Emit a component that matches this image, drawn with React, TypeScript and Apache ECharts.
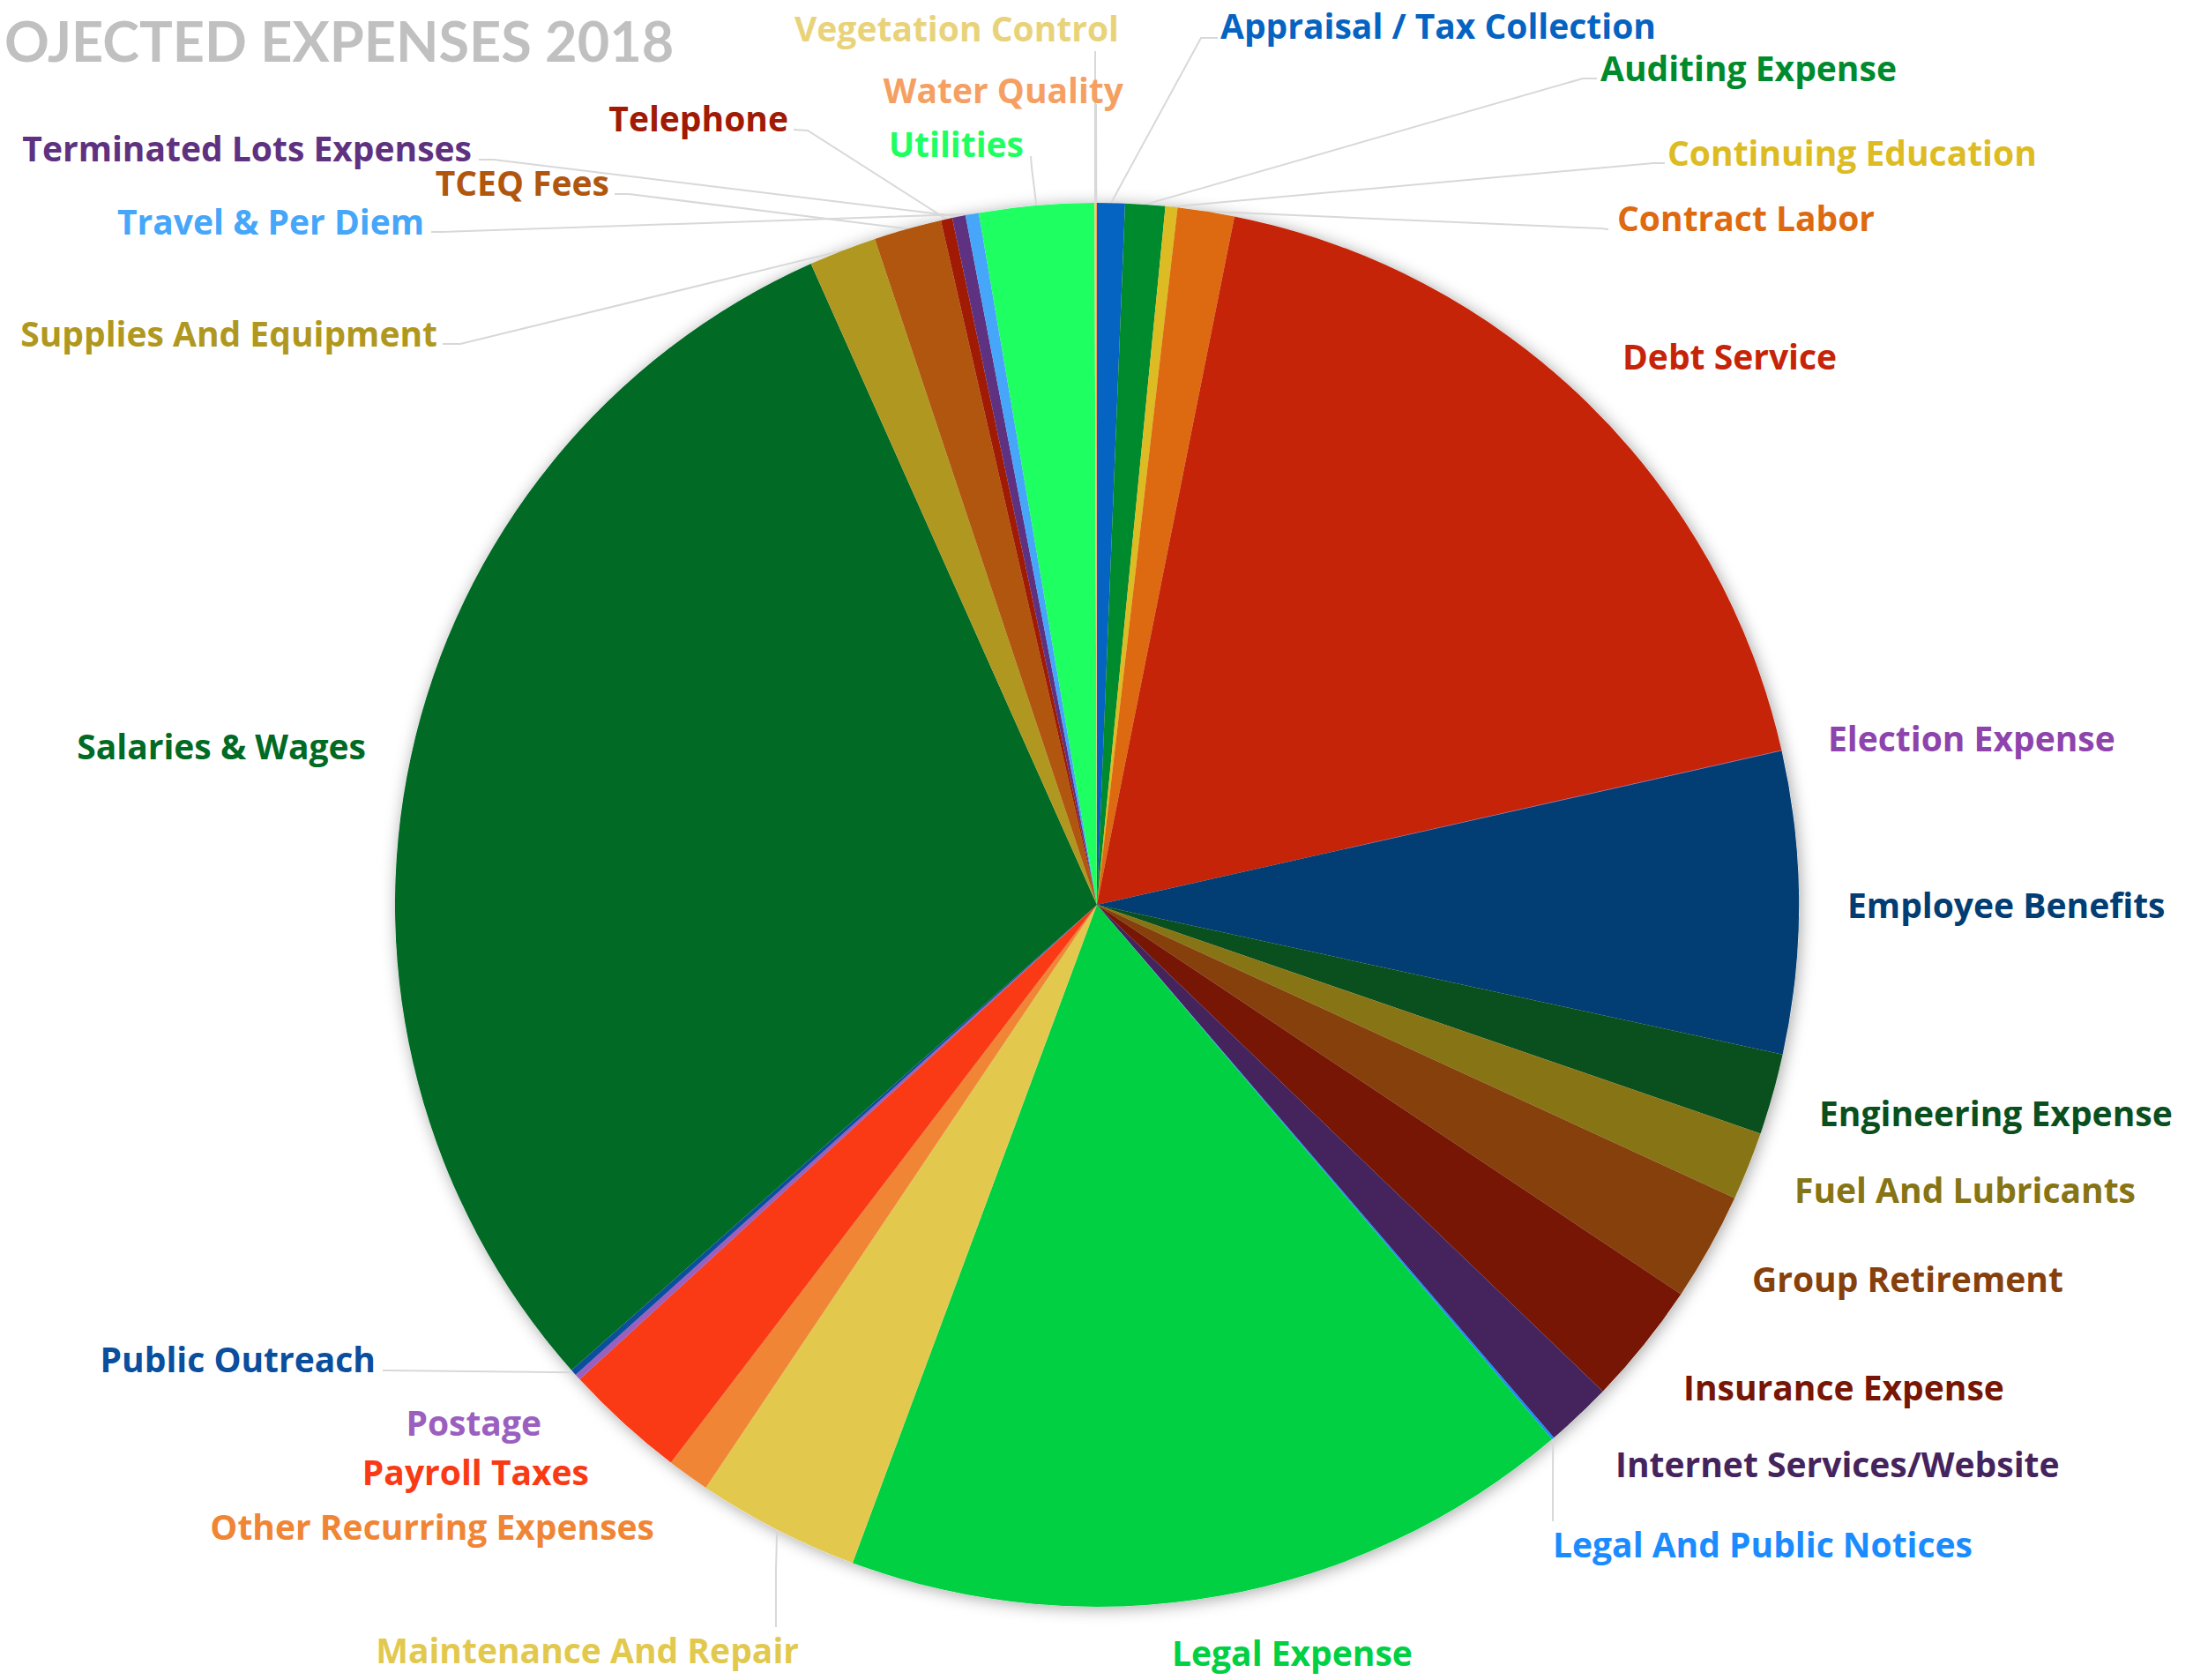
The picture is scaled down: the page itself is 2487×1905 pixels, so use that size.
import React, { useEffect, useRef } from 'react';
import * as echarts from 'echarts';

const titleText = 'OJECTED EXPENSES 2018';

const categories = [
  'Appraisal / Tax Collection',
  'Auditing Expense',
  'Continuing Education',
  'Contract Labor',
  'Debt Service',
  'Election Expense',
  'Employee Benefits',
  'Engineering Expense',
  'Fuel And Lubricants',
  'Group Retirement',
  'Insurance Expense',
  'Internet Services/Website',
  'Legal And Public Notices',
  'Legal Expense',
  'Maintenance And Repair',
  'Other Recurring Expenses',
  'Payroll Taxes',
  'Postage',
  'Public Outreach',
  'Salaries & Wages',
  'Supplies And Equipment',
  'TCEQ Fees',
  'Telephone',
  'Terminated Lots Expenses',
  'Travel & Per Diem',
  'Utilities',
  'Vegetation Control',
  'Water Quality',
];

const values = [
  6900, 9900, 3000, 14100, 198000, 100, 75000, 20100, 17000, 27000, 30600, 16500,
  600, 182400, 40500, 10500, 30300, 1500, 1500, 322500, 16800, 16800, 2850, 3300,
  3300, 28500, 300, 300,
];

const colors = [
  '#0563C1', '#008A2E', '#DDBB22', '#DD6A10', '#C62408', '#8E44AD', '#023D73', '#0A4F1E',
  '#877414', '#86400C', '#771604', '#45245E', '#1A8CFF', '#00D042', '#E2C94E', '#F08535',
  '#F93A14', '#9B5FC0', '#0A4E9E', '#016A24', '#B09820', '#B0560E', '#A01A04', '#5E3280',
  '#45A6FA', '#1EFF62', '#E9D37A', '#F5A062',
];

// label layout table (page pixels): anchor x, y, alignment, optional connector bend points
type Place = { x: number; y: number; align: 'left' | 'right' | 'center'; line?: number[][] };
const labelPlacement: Place[] = [
  { x: 1384, y: 28, align: 'left', line: [[1362, 43], [1381, 43]] },
  { x: 1815, y: 76, align: 'left', line: [[1795, 89], [1811, 89]] },
  { x: 1891, y: 172, align: 'left', line: [[1875, 185], [1888, 185]] },
  { x: 1834, y: 246, align: 'left', line: [[1815, 259], [1824, 260]] },
  { x: 1840, y: 403, align: 'left' },
  { x: 2073, y: 836, align: 'left' },
  { x: 2095, y: 1025, align: 'left' },
  { x: 2063, y: 1261, align: 'left' },
  { x: 2035, y: 1348, align: 'left' },
  { x: 1987, y: 1449, align: 'left' },
  { x: 1909, y: 1572, align: 'left' },
  { x: 1832, y: 1659, align: 'left' },
  { x: 1761, y: 1750, align: 'left', line: [[1761, 1700], [1761, 1725]] },
  { x: 1329, y: 1873, align: 'left' },
  { x: 906, y: 1870, align: 'right', line: [[880, 1780], [880, 1845]] },
  { x: 742, y: 1730, align: 'right' },
  { x: 668, y: 1668, align: 'right' },
  { x: 614, y: 1612, align: 'right' },
  { x: 426, y: 1540, align: 'right', line: [[440, 1554], [434, 1554]] },
  { x: 415, y: 845, align: 'right' },
  { x: 496, y: 377, align: 'right', line: [[522, 390], [502, 390]] },
  { x: 691, y: 206, align: 'right', line: [[713, 220], [697, 220]] },
  { x: 894, y: 133, align: 'right', line: [[916, 148], [900, 147]] },
  { x: 535, y: 167, align: 'right', line: [[560, 181], [543, 181]] },
  { x: 481, y: 250, align: 'right', line: [[500, 263], [489, 263]] },
  { x: 1161, y: 162, align: 'right', line: [[1170, 190], [1169, 177]] },
  { x: 1269, y: 31, align: 'right', line: [[1242, 62], [1242, 58]] },
  { x: 1274, y: 101, align: 'right', line: [[1243, 125], [1243, 118]] },
];

const CENTER: [number, number] = [1244, 1026];
const RADIUS = 796;
const TITLE_FONT = 'Lato, "Open Sans", sans-serif';
const LABEL_FONT = '"Open Sans", Lato, sans-serif';

export default function App() {
  const ref = useRef<HTMLDivElement>(null);

  useEffect(() => {
    document.body.style.margin = '0';
    document.body.style.overflow = 'hidden';
    if (!ref.current) return;
    const chart = echarts.init(ref.current, undefined, { renderer: 'svg' });

    const data = categories.map((name, i) => ({
      name,
      value: values[i],
      itemStyle: { color: colors[i] },
      label: { color: colors[i] },
      labelLine: { show: !!labelPlacement[i].line },
    }));

    chart.setOption({
      animation: false,
      backgroundColor: '#ffffff',
      title: {
        text: titleText,
        left: 0,
        top: 9,
        textStyle: { fontSize: 63, fontWeight: 'bold', color: '#c0c0c0', fontFamily: TITLE_FONT },
      },
      series: [
        {
          type: 'pie',
          silent: true,
          z: 1,
          center: CENTER,
          radius: RADIUS,
          startAngle: 90,
          clockwise: true,
          label: { show: false },
          labelLine: { show: false },
          emphasis: { disabled: true },
          itemStyle: {
            color: '#ffffff',
            shadowBlur: 18,
            shadowColor: 'rgba(0,0,0,0.35)',
            shadowOffsetX: 2,
            shadowOffsetY: 2,
          },
          data: values.map((v) => ({ value: v })),
        },
        {
          type: 'pie',
          z: 2,
          center: CENTER,
          radius: RADIUS,
          startAngle: 90,
          clockwise: true,
          avoidLabelOverlap: false,
          minAngle: 0,
          emphasis: { disabled: true },
          itemStyle: { borderWidth: 0 },
          label: {
            show: true,
            position: 'outside',
            formatter: '{b}',
            fontFamily: LABEL_FONT,
            fontWeight: 'bold',
            fontSize: 39,
          },
          labelLine: {
            show: false,
            length: 10,
            length2: 10,
            lineStyle: { color: '#d8d8d8', width: 2 },
          },
          labelLayout: (params: any) => {
            const p = labelPlacement[params.dataIndex];
            const res: any = {
              x: p.x,
              y: p.y,
              align: p.align,
              verticalAlign: 'middle',
              hideOverlap: false,
            };
            if (p.line && params.labelLinePoints && params.labelLinePoints[0]) {
              res.labelLinePoints = [params.labelLinePoints[0], p.line[0], p.line[1]];
            }
            return res;
          },
          data,
        },
      ],
    });

    return () => chart.dispose();
  }, []);

  return (
    <div
      ref={ref}
      style={{ position: 'absolute', left: 0, top: 0, width: 2487, height: 1905 }}
    />
  );
}
